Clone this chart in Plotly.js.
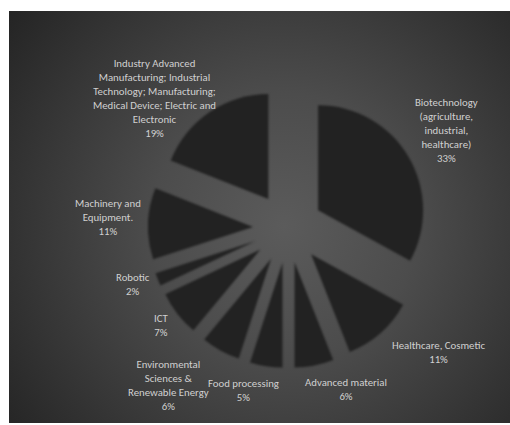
<!DOCTYPE html>
<html>
<head>
<meta charset="utf-8">
<script src="https://cdn.plot.ly/plotly-3.0.1.min.js"></script>
<style>
  html, body { margin: 0; padding: 0; background: #ffffff; }
  #wrap { position: relative; width: 510px; height: 425px; overflow: hidden; }
  #bg {
    position: absolute; left: 9px; top: 11px; width: 501px; height: 412px;
    background: radial-gradient(circle farthest-corner at 275px 215px, #5b5b5b 0%, #4c4c4c 38%, #242424 100%);
  }
  #chart { position: absolute; left: 0; top: 0; width: 510px; height: 425px; }
  .pielayer path.surface { filter: blur(1.1px); }
</style>
</head>
<body>
<div id="wrap">
  <div id="bg"></div>
  <div id="chart"></div>
</div>
<script>
// ---- data ----
const categories = [
  "Biotechnology<br>(agriculture,<br>industrial,<br>healthcare)",
  "Healthcare, Cosmetic",
  "Advanced material",
  "Food processing",
  "Environmental<br>Sciences &<br>Renewable Energy",
  "ICT",
  "Robotic",
  "Machinery and<br>Equipment.",
  "Industry Advanced<br>Manufacturing; Industrial<br>Technology; Manufacturing;<br>Medical Device; Electric and<br>Electronic"
];
const shares = [33, 11, 6, 5, 6, 7, 2, 11, 19];

// ---- label placement (layout only, paper pixels) ----
const labelPos = [
  [446, 130], [438, 352], [346, 389], [243, 390], [168, 385],
  [161, 325], [133, 284], [108, 217], [154, 98]
];

const W = 510, H = 425;
const total = shares.reduce((a, b) => a + b, 0);

const trace = {
  type: 'pie',
  labels: categories,
  values: shares,
  sort: false,
  direction: 'clockwise',
  rotation: 0,
  pull: shares.map(() => 0.333),
  textinfo: 'none',
  hoverinfo: 'label+percent',
  marker: { colors: shares.map(() => '#222222'), line: { width: 0 } },
  domain: { x: [0.2902, 0.8392], y: [0.1341, 0.7929] },
  showlegend: false
};

const annotations = categories.map((c, i) => ({
  xref: 'paper', yref: 'paper',
  x: labelPos[i][0] / W, y: 1 - labelPos[i][1] / H,
  xanchor: 'center', yanchor: 'middle', align: 'center',
  showarrow: false,
  text: c + '<br>' + Math.round(shares[i] / total * 100) + '%',
  font: { family: 'Carlito, Lato, sans-serif', size: 10.8, color: '#d0d0d0' }
}));

const layout = {
  width: W, height: H,
  margin: { l: 0, r: 0, t: 0, b: 0 },
  paper_bgcolor: 'rgba(0,0,0,0)',
  plot_bgcolor: 'rgba(0,0,0,0)',
  showlegend: false,
  annotations: annotations
};

Plotly.newPlot('chart', [trace], layout, { displayModeBar: false, staticPlot: true });
</script>
</body>
</html>
